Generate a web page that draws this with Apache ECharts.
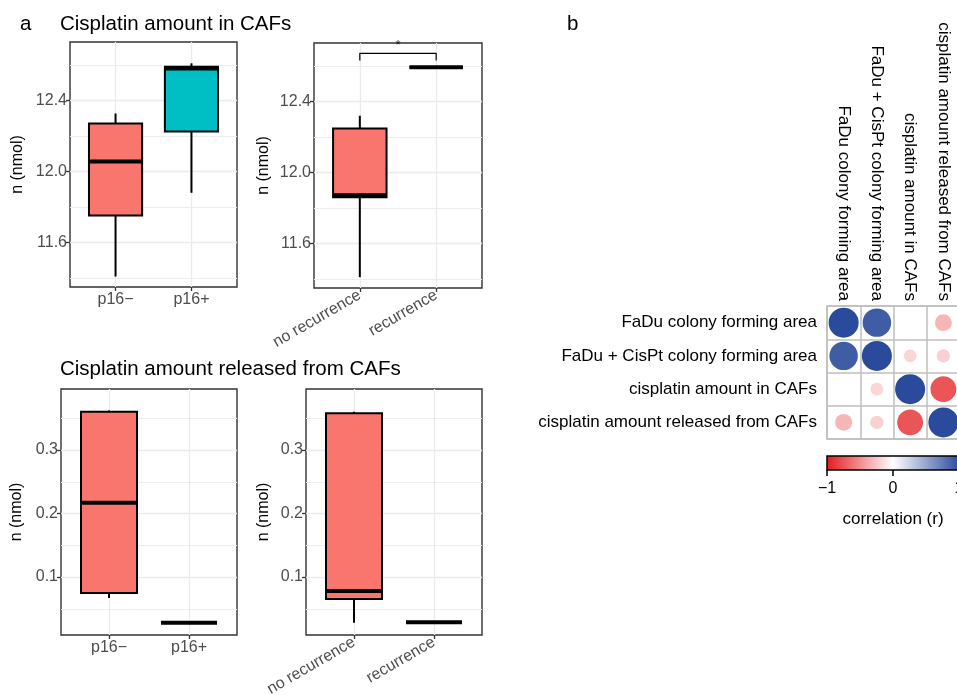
<!DOCTYPE html>
<html>
<head>
<meta charset="utf-8">
<script src="https://cdn.jsdelivr.net/npm/echarts@6/dist/echarts.min.js"></script>
<style>
  html, body { margin: 0; padding: 0; background: #fff; }
  #chart { width: 957px; height: 695px; }
</style>
</head>
<body>
<div id="chart"></div>
<script>
// categories
const p16Groups = ['p16\u2212', 'p16+'];
const recurrenceGroups = ['no recurrence', 'recurrence'];

// box statistics: [min, q1, median, q3, max] per group
const inCafsByP16 = [[11.408, 11.752, 12.056, 12.27, 12.327], [11.88, 12.225, 12.58, 12.59, 12.61]];
const inCafsByRecurrence = [[11.41, 11.86, 11.872, 12.248, 12.32], [12.593, 12.593, 12.593, 12.593, 12.593]];
const releasedByP16 = [[0.067, 0.075, 0.217, 0.36, 0.362], [0.028, 0.028, 0.028, 0.028, 0.028]];
const releasedByRecurrence = [[0.028, 0.0655, 0.078, 0.358, 0.36], [0.029, 0.029, 0.029, 0.029, 0.029]];

// y ticks
const inCafsTicks = [11.6, 12.0, 12.4];
const inCafsMinor = [11.4, 11.8, 12.2, 12.6];
const releasedTicks = [0.1, 0.2, 0.3];
const releasedMinor = [0.05, 0.15, 0.25, 0.35];

// significance bracket (recurrence panel): [x, y] path + label
const sigBracket = [[0, 12.632], [0, 12.672], [1, 12.672], [1, 12.632]];
const sigLabel = [[0.5, 12.672, '*']];

// correlation matrix
const corrVars = ['FaDu colony forming area', 'FaDu + CisPt colony forming area',
  'cisplatin amount in CAFs', 'cisplatin amount released from CAFs'];
const corrMatrix = [
  [1, 0.9, 0.0, -0.32],
  [0.9, 1, -0.18, -0.2],
  [0.0, -0.18, 1, -0.74],
  [-0.32, -0.2, -0.74, 1]
];
const colorbarTicks = [-1, 0, 1];

const FONT = '"Liberation Sans", Arial, Helvetica, sans-serif';
const groupFills = ['#F8766D', '#00BFC4'];
const corrColors = ['#E31A1C', '#FFFFFF', '#2A4B9B'];

const chart = echarts.init(document.getElementById('chart'));

// panel layouts
const panels = [
  { grid: { left: 70, top: 42, width: 167, height: 245 }, cats: p16Groups, stats: inCafsByP16,
    min: 11.349, max: 12.73, ticks: inCafsTicks, minor: inCafsMinor, rotate: 0, nameGap: 44 },
  { grid: { left: 314, top: 43, width: 168, height: 245 }, cats: recurrenceGroups, stats: inCafsByRecurrence,
    min: 11.349, max: 12.73, ticks: inCafsTicks, minor: inCafsMinor, rotate: 30, nameGap: 42 },
  { grid: { left: 61, top: 389, width: 176, height: 246 }, cats: p16Groups, stats: releasedByP16,
    min: 0.0088, max: 0.396, ticks: releasedTicks, minor: releasedMinor, rotate: 0, nameGap: 36 },
  { grid: { left: 306, top: 389, width: 176, height: 246 }, cats: recurrenceGroups, stats: releasedByRecurrence,
    min: 0.0088, max: 0.396, ticks: releasedTicks, minor: releasedMinor, rotate: 30, nameGap: 34 }
];

const grids = [], xAxes = [], yAxes = [], series = [];

panels.forEach((p, i) => {
  grids.push(Object.assign({ show: true, outerBoundsMode: 'none', containLabel: false,
    borderColor: '#333333', borderWidth: 1.4, backgroundColor: '#fff' }, p.grid));
  xAxes.push({
    type: 'value', gridIndex: i, min: -0.6, max: 1.6,
    axisLine: { show: false, onZero: false },
    axisTick: { show: true, length: 4, customValues: [0, 1], lineStyle: { color: '#333', width: 1.3 } },
    axisLabel: {
      customValues: [0, 1], rotate: p.rotate, margin: p.rotate ? 6 : 5, fontSize: 16, color: '#4D4D4D', fontFamily: FONT,
      formatter: v => p.cats[Math.round(v)]
    },
    splitLine: { show: true, lineStyle: { color: '#EBEBEB', width: 1.3 } }
  });
  yAxes.push({
    type: 'value', gridIndex: i, min: p.min, max: p.max,
    name: 'n (nmol)', nameLocation: 'middle', nameGap: p.nameGap,
    nameTextStyle: { fontSize: 16, color: '#000', fontFamily: FONT },
    axisLine: { show: false, onZero: false },
    axisTick: { show: true, length: 4, customValues: p.ticks, lineStyle: { color: '#333', width: 1.3 } },
    axisLabel: { customValues: p.ticks, margin: 3, fontSize: 16, color: '#4D4D4D', fontFamily: FONT,
      formatter: v => v.toFixed(1) },
    splitLine: { show: true, lineStyle: { color: '#EBEBEB', width: 1.3 } }
  });
  yAxes.push({
    type: 'value', gridIndex: i, min: p.min, max: p.max,
    axisLine: { show: false, onZero: false },
    axisTick: { show: false, customValues: p.minor },
    axisLabel: { show: false, customValues: p.minor },
    splitLine: { show: true, lineStyle: { color: '#EDEDED', width: 1 } }
  });
  series.push({
    type: 'custom', xAxisIndex: i, yAxisIndex: 2 * i, z: 5,
    data: p.stats.map((s, k) => [k].concat(s)),
    encode: { x: 0, y: [1, 2, 3, 4, 5] },
    renderItem: (params, api) => {
      const x = api.value(0);
      const lo = api.coord([x, api.value(1)]);
      const q1 = api.coord([x, api.value(2)]);
      const med = api.coord([x, api.value(3)]);
      const q3 = api.coord([x, api.value(4)]);
      const hi = api.coord([x, api.value(5)]);
      const hw = api.size([0.7, 0])[0] / 2;
      const stroke = { stroke: '#000', lineWidth: 2 };
      return {
        type: 'group',
        children: [
          { type: 'line', shape: { x1: lo[0], y1: hi[1], x2: lo[0], y2: q3[1] }, style: stroke },
          { type: 'line', shape: { x1: lo[0], y1: q1[1], x2: lo[0], y2: lo[1] }, style: stroke },
          { type: 'rect', shape: { x: lo[0] - hw, y: q3[1], width: hw * 2, height: q1[1] - q3[1] },
            style: { fill: groupFills[x], stroke: '#000', lineWidth: 2 } },
          { type: 'line', shape: { x1: lo[0] - hw, y1: med[1], x2: lo[0] + hw, y2: med[1] },
            style: { stroke: '#000', lineWidth: 4 } }
        ]
      };
    }
  });
});

// significance bracket on the recurrence panel
series.push({
  type: 'line', xAxisIndex: 1, yAxisIndex: 2, data: sigBracket, symbol: 'none', z: 6,
  lineStyle: { color: '#000', width: 1.2 }, silent: true
});
series.push({
  type: 'scatter', xAxisIndex: 1, yAxisIndex: 2, data: sigLabel, symbolSize: 0, z: 6,
  label: { show: true, position: 'top', distance: 1, formatter: d => d.value[2], fontSize: 13, color: '#000', fontFamily: FONT }
});

// correlation plot
grids.push({ show: true, outerBoundsMode: 'none', containLabel: false, left: 827, top: 306, width: 133, height: 133,
  borderColor: '#BEBEBE', borderWidth: 1.5, backgroundColor: '#fff' });
xAxes.push({
  type: 'category', gridIndex: 4, data: corrVars, position: 'top',
  axisLine: { show: false }, axisTick: { show: false },
  axisLabel: { rotate: 90, interval: 0, margin: 5, fontSize: 17, color: '#000', fontFamily: FONT },
  splitLine: { show: true, interval: 0, lineStyle: { color: '#BEBEBE', width: 1.5 } }
});
yAxes.push({
  type: 'category', gridIndex: 4, data: corrVars, inverse: true,
  axisLine: { show: false, onZero: false }, axisTick: { show: false },
  axisLabel: { interval: 0, margin: 10, fontSize: 17, color: '#000', fontFamily: FONT },
  splitLine: { show: true, interval: 0, lineStyle: { color: '#BEBEBE', width: 1.5 } }
});
const corrData = [];
corrMatrix.forEach((row, r) => row.forEach((v, c) => corrData.push([c, r, v])));
series.push({
  type: 'scatter', xAxisIndex: 4, yAxisIndex: 8, data: corrData, z: 5,
  itemStyle: { opacity: 1 },
  symbolSize: v => 30 * Math.sqrt(Math.abs(v[2]))
});

// colorbar
grids.push({
  show: true, outerBoundsMode: 'none', containLabel: false, left: 827, top: 456, width: 132, height: 14,
  borderColor: '#000', borderWidth: 1.5,
  backgroundColor: new echarts.graphic.LinearGradient(0, 0, 1, 0, [
    { offset: 0, color: corrColors[0] }, { offset: 0.5, color: corrColors[1] }, { offset: 1, color: corrColors[2] }
  ])
});
xAxes.push({
  type: 'value', gridIndex: 5, min: colorbarTicks[0], max: colorbarTicks[2], interval: 1,
  name: 'correlation (r)', nameLocation: 'middle', nameGap: 41,
  nameTextStyle: { fontSize: 17, color: '#000', fontFamily: FONT },
  axisLine: { show: false, onZero: false },
  axisTick: { show: true, length: 6, lineStyle: { color: '#000', width: 1.5 } },
  axisLabel: { margin: 11, fontSize: 16, color: '#000', fontFamily: FONT,
    formatter: v => (v < 0 ? '\u2212' + Math.abs(v) : String(v)) },
  splitLine: { show: false }
});
yAxes.push({
  type: 'value', gridIndex: 5, min: 1, max: 2, show: false,
  axisLine: { onZero: false }, splitLine: { show: false }
});

const titleStyle = { fontSize: 20.5, fontWeight: 'normal', color: '#000', fontFamily: FONT };
chart.setOption({
  animation: false,
  backgroundColor: '#fff',
  textStyle: { fontFamily: FONT },
  title: [
    { text: 'a', left: 20, top: 14, padding: 0, textStyle: titleStyle },
    { text: 'Cisplatin amount in CAFs', left: 60, top: 14, padding: 0, textStyle: titleStyle },
    { text: 'Cisplatin amount released from CAFs', left: 60, top: 359, padding: 0, textStyle: titleStyle },
    { text: 'b', left: 567, top: 14, padding: 0, textStyle: titleStyle }
  ],
  visualMap: {
    type: 'continuous', show: false, min: -1, max: 1, dimension: 2, seriesIndex: series.length - 1,
    inRange: { color: corrColors }
  },
  grid: grids,
  xAxis: xAxes,
  yAxis: yAxes,
  series: series
});
</script>
</body>
</html>
